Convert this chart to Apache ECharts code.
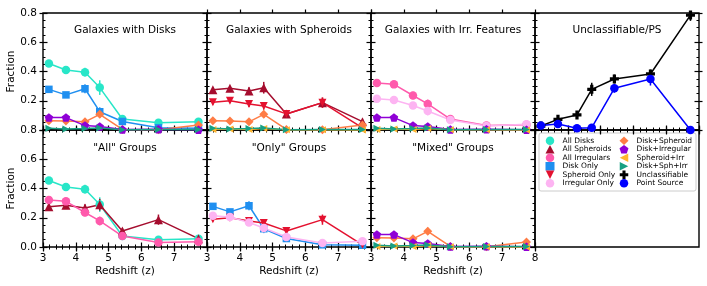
<!DOCTYPE html>
<html><head><meta charset="utf-8">
<script src="https://cdn.jsdelivr.net/npm/echarts@6/dist/echarts.min.js"></script>
<style>html,body{margin:0;padding:0;background:#fff}#c{width:707px;height:286px}</style>
</head><body><div id="c"></div>
<script>
// ---- data ----
const redshift = [3.18, 3.7, 4.28, 4.73, 5.42, 6.52, 7.74];
const xTicks = [3, 4, 5, 6, 7, 8];
const yTicks = [0.0, 0.2, 0.4, 0.6, 0.8];

const allDisks      = [0.455, 0.41, 0.395, 0.29, 0.075, 0.05, 0.057];
const allDisksErr   = [0.012, 0.02, 0.03, 0.05, 0.012, 0.012, 0.02];
const diskOnly      = [0.278, 0.24, 0.282, 0.125, 0.058, 0.015, 0.012];
const diskOnlyErr   = [0.015, 0.018, 0.03, 0.03, 0.01, 0.008, 0.006];
const allSpheroids  = [0.275, 0.285, 0.267, 0.289, 0.11, 0.187, 0.057];
const allSpheroidsErr = [0.015, 0.015, 0.025, 0.04, 0.02, 0.035, 0.02];
const spheroidOnly  = [0.19, 0.2, 0.178, 0.164, 0.11, 0.187, 0.015];
const spheroidOnlyErr = [0.015, 0.015, 0.02, 0.025, 0.02, 0.035, 0.01];
const allIrregulars = [0.322, 0.312, 0.236, 0.178, 0.075, 0.03, 0.036];
const allIrregularsErr = [0.015, 0.015, 0.025, 0.03, 0.015, 0.01, 0.01];
const irregularOnly = [0.213, 0.205, 0.168, 0.13, 0.068, 0.028, 0.04];
const irregularOnlyErr = [0.012, 0.015, 0.02, 0.03, 0.015, 0.01, 0.01];
const diskSpheroid  = [0.063, 0.062, 0.056, 0.107, 0.004, 0.002, 0.034];
const diskSpheroidErr = [0.01, 0.01, 0.012, 0.025, 0.004, 0.003, 0.015];
const diskIrregular = [0.085, 0.085, 0.03, 0.024, 0.004, 0.005, 0.002];
const diskIrregularErr = [0.01, 0.01, 0.01, 0.01, 0.004, 0.004, 0.003];
const spheroidIrr   = [0.004, 0.006, 0.004, 0.01, 0.001, 0.002, 0.0];
const spheroidIrrErr = [0.003, 0.003, 0.003, 0.004, 0.001, 0.002, 0.001];
const diskSphIrr    = [0.012, 0.007, 0.01, 0.014, 0.002, 0.004, 0.004];
const diskSphIrrErr = [0.004, 0.003, 0.004, 0.005, 0.002, 0.002, 0.002];
const unclassifiable = [0.027, 0.073, 0.103, 0.278, 0.349, 0.383, 0.786];
const unclassifiableErr = [0.01, 0.012, 0.015, 0.045, 0.03, 0.03, 0.04];
const pointSource   = [0.03, 0.041, 0.012, 0.016, 0.285, 0.349, 0.0];
const pointSourceErr = [0.008, 0.01, 0.005, 0.01, 0.03, 0.045, 0.005];

const panelTitles = ['Galaxies with Disks', 'Galaxies with Spheroids', 'Galaxies with Irr. Features',
  'Unclassifiable/PS', '"All" Groups', '"Only" Groups', '"Mixed" Groups'];
const panelSeries = [
  ['All Disks', 'Disk Only', 'Disk+Spheroid', 'Disk+Irregular', 'Disk+Sph+Irr'],
  ['All Spheroids', 'Spheroid Only', 'Disk+Spheroid', 'Spheroid+Irr', 'Disk+Sph+Irr'],
  ['All Irregulars', 'Irregular Only', 'Disk+Irregular', 'Spheroid+Irr', 'Disk+Sph+Irr'],
  ['Unclassifiable', 'Point Source'],
  ['All Disks', 'All Spheroids', 'All Irregulars'],
  ['Disk Only', 'Spheroid Only', 'Irregular Only'],
  ['Disk+Spheroid', 'Disk+Irregular', 'Spheroid+Irr', 'Disk+Sph+Irr']
];
const legendCol1 = ['All Disks', 'All Spheroids', 'All Irregulars', 'Disk Only', 'Spheroid Only', 'Irregular Only'];
const legendCol2 = ['Disk+Spheroid', 'Disk+Irregular', 'Spheroid+Irr', 'Disk+Sph+Irr', 'Unclassifiable', 'Point Source'];

const seriesData = {
  'All Disks': [allDisks, allDisksErr], 'Disk Only': [diskOnly, diskOnlyErr],
  'All Spheroids': [allSpheroids, allSpheroidsErr], 'Spheroid Only': [spheroidOnly, spheroidOnlyErr],
  'All Irregulars': [allIrregulars, allIrregularsErr], 'Irregular Only': [irregularOnly, irregularOnlyErr],
  'Disk+Spheroid': [diskSpheroid, diskSpheroidErr], 'Disk+Irregular': [diskIrregular, diskIrregularErr],
  'Spheroid+Irr': [spheroidIrr, spheroidIrrErr], 'Disk+Sph+Irr': [diskSphIrr, diskSphIrrErr],
  'Unclassifiable': [unclassifiable, unclassifiableErr], 'Point Source': [pointSource, pointSourceErr]
};

// ---- styles ----
const P_DOWN = 'path://M-1,-1 L1,-1 L0,1 Z';
const P_LEFT = 'path://M1,-1 L1,1 L-1,0 Z';
const P_RIGHT = 'path://M-1,-1 L-1,1 L1,0 Z';
const P_PENT = 'path://M0,-1 L0.951,-0.309 L0.588,0.809 L-0.588,0.809 L-0.951,-0.309 Z';
const P_PLUS = 'path://M-0.36,-1 H0.36 V-0.36 H1 V0.36 H0.36 V1 H-0.36 V0.36 H-1 V-0.36 H-0.36 Z';
const styles = {
  'All Disks': {c: '#28e6c8', s: 'circle', z: 8.5},
  'All Spheroids': {c: '#a50d2e', s: 'triangle', z: 9},
  'All Irregulars': {c: '#ff5aac', s: 'circle', z: 8.5},
  'Disk Only': {c: '#1f8ff0', s: 'rect', z: 7.5},
  'Spheroid Only': {c: '#e4112f', s: P_DOWN, z: 8},
  'Irregular Only': {c: '#fdb4f2', s: 'circle', z: 8.5},
  'Disk+Spheroid': {c: '#ff7c45', s: 'diamond', z: 9},
  'Disk+Irregular': {c: '#8f00d6', s: P_PENT, z: 8.5},
  'Spheroid+Irr': {c: '#ffb52e', s: P_LEFT, z: 7},
  'Disk+Sph+Irr': {c: '#17a082', s: P_RIGHT, z: 7},
  'Unclassifiable': {c: '#000000', s: P_PLUS, z: 9},
  'Point Source': {c: '#0000ff', s: 'circle', z: 8.5}
};

const FONT = 'DejaVu Sans';
const colLeft = [43, 207, 371, 535];
const rowTop = [13, 130];
const PW = 164, PH = 117;

const grids = [], xAxes = [], yAxes = [], series = [], titles = [];
const near = (a, b) => Math.abs(a - b) < 1e-6;

function tickCfg(inside, len) {
  return {show: true, inside: inside, length: len, lineStyle: {color: '#000', width: 1.2}};
}

for (let p = 0; p < 8; p++) {
  const c = p % 4, r = Math.floor(p / 4);
  grids.push({left: colLeft[c], top: rowTop[r], width: PW, height: PH, show: true,
    borderColor: '#000', borderWidth: 1.4, backgroundColor: 'transparent', containLabel: false});
  if (p === 7) {
    xAxes.push({gridIndex: 7, type: 'value', show: false, min: 0, max: 1});
    yAxes.push({gridIndex: 7, type: 'value', show: false, min: 0, max: 1});
    continue;
  }
  const xBase = {gridIndex: p, type: 'value', min: xTicks[0], max: xTicks[xTicks.length - 1], interval: 1,
    axisLine: {show: false}, splitLine: {show: false}};
  const yBase = {gridIndex: p, type: 'value', min: yTicks[0], max: yTicks[yTicks.length - 1], interval: 0.2,
    axisLine: {show: false}, splitLine: {show: false}};
  const minorX = {show: true, splitNumber: 5, length: 2.5, lineStyle: {color: '#000', width: 1}};
  const minorY = {show: true, splitNumber: 4, length: 2.5, lineStyle: {color: '#000', width: 1}};
  const showXLabels = r === 1;
  const bottomIdx = xAxes.length;
  xAxes.push(Object.assign({}, xBase, {
    position: 'bottom', axisTick: tickCfg(true, 4.5), minorTick: minorX,
    axisLabel: {show: showXLabels, margin: 6, fontSize: 10.5, fontFamily: FONT, color: '#000',
      formatter: v => (p === 6 || v < 7.5) ? String(Math.round(v)) : ''},
    name: showXLabels ? 'Redshift (z)' : '', nameLocation: 'middle', nameGap: 19,
    nameTextStyle: {fontSize: 10.5, fontFamily: FONT, color: '#000'}
  }));
  xAxes.push(Object.assign({}, xBase, {position: 'top', axisTick: tickCfg(true, 4.5), minorTick: minorX, axisLabel: {show: false}}));
  if (r === 0) xAxes.push(Object.assign({}, xBase, {position: 'top', axisTick: tickCfg(false, 3.5), axisLabel: {show: false}}));
  if (r === 1 || p === 3) xAxes.push(Object.assign({}, xBase, {position: 'bottom', axisTick: tickCfg(false, 3.5), axisLabel: {show: false}}));

  const leftIdx = yAxes.length;
  yAxes.push(Object.assign({}, yBase, {
    position: 'left', axisTick: tickCfg(true, 4.5), minorTick: minorY,
    axisLabel: {show: c === 0, margin: 6, fontSize: 10.5, fontFamily: FONT, color: '#000',
      formatter: v => (r === 0 && near(v, 0)) ? '' : v.toFixed(1)},
    name: c === 0 ? 'Fraction' : '', nameLocation: 'middle', nameGap: 25,
    nameTextStyle: {fontSize: 10.5, fontFamily: FONT, color: '#000'}
  }));
  yAxes.push(Object.assign({}, yBase, {position: 'right', axisTick: tickCfg(true, 4.5), minorTick: minorY, axisLabel: {show: false}}));
  if (c === 0) yAxes.push(Object.assign({}, yBase, {position: 'left', axisTick: tickCfg(false, 3.5), axisLabel: {show: false}}));
  if (p === 3) yAxes.push(Object.assign({}, yBase, {position: 'right', axisTick: tickCfg(false, 3.5), axisLabel: {show: false}}));

  titles.push({text: panelTitles[p], left: colLeft[c] + PW / 2, top: rowTop[r] + (r === 0 ? 12 : 13), textAlign: 'center', padding: 0,
    textStyle: {fontSize: 10.5, fontWeight: 'normal', fontFamily: FONT, color: '#000'}});

  panelSeries[p].forEach(name => {
    const st = styles[name];
    const vals = seriesData[name][0], errs = seriesData[name][1];
    series.push({
      type: 'custom', name: name + ' err', xAxisIndex: bottomIdx, yAxisIndex: leftIdx, silent: true,
      data: redshift.map((x, k) => [x, vals[k], errs[k]]),
      renderItem: (params, api) => {
        const x = api.value(0), y = api.value(1), e = api.value(2);
        const a = api.coord([x, Math.max(0, y - e)]), b = api.coord([x, Math.min(0.8, y + e)]);
        return {type: 'line', shape: {x1: a[0], y1: a[1], x2: b[0], y2: b[1]}, style: {stroke: st.c, lineWidth: 1.5}};
      }
    });
    series.push({
      type: 'line', name: name, xAxisIndex: bottomIdx, yAxisIndex: leftIdx,
      data: redshift.map((x, k) => [x, vals[k]]),
      symbol: st.s, symbolSize: st.z, showSymbol: true, clip: false,
      lineStyle: {color: st.c, width: 1.5}, itemStyle: {color: st.c}
    });
  });
}

function legendFor(list, left) {
  return {
    data: list.map(n => ({name: n, icon: styles[n].s})),
    orient: 'vertical', left: left, top: 136.5, padding: 0, itemGap: 0,
    itemWidth: 9, itemHeight: 8.5, selectedMode: false,
    textStyle: {fontSize: 7.5, fontFamily: FONT, color: '#000', padding: [0, 0, 0, 3]}
  };
}

const option = {
  animation: false,
  backgroundColor: '#fff',
  grid: grids, xAxis: xAxes, yAxis: yAxes, title: titles, series: series,
  legend: [legendFor(legendCol1, 545.5), legendFor(legendCol2, 619.5)],
  graphic: [{type: 'rect', z: -1, shape: {x: 539, y: 133, width: 157, height: 58, r: 2},
    style: {fill: '#fff', stroke: '#cccccc', lineWidth: 1}}]
};
const chart = echarts.init(document.getElementById('c'), null, {renderer: 'canvas'});
chart.setOption(option);
</script></body></html>
